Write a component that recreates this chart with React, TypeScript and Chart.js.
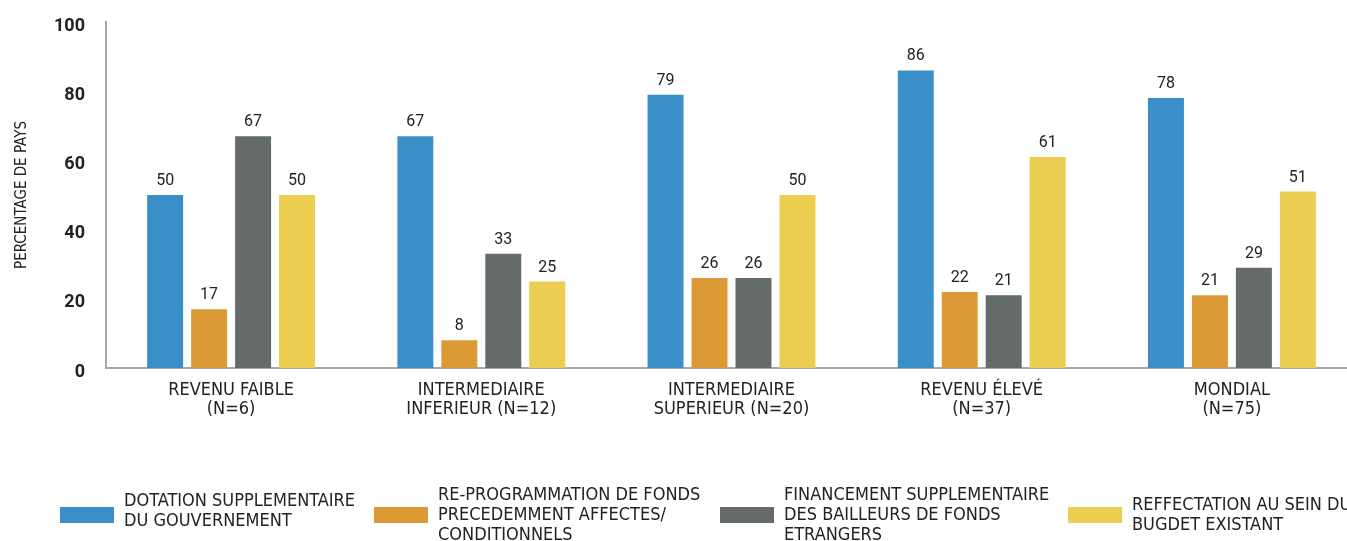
import React, { useEffect, useRef } from "react";
import { Chart, registerables } from "chart.js";

Chart.register(...registerables);

const categories: string[][] = [
  ["REVENU FAIBLE", "(N=6)"],
  ["INTERMEDIAIRE", "INFERIEUR (N=12)"],
  ["INTERMEDIAIRE", "SUPERIEUR (N=20)"],
  ["REVENU ÉLEVÉ", "(N=37)"],
  ["MONDIAL", "(N=75)"],
];

const dotation = [50, 67, 79, 86, 78];
const reprogrammation = [17, 8, 26, 22, 21];
const financement = [67, 33, 26, 21, 29];
const reaffectation = [50, 25, 50, 61, 51];

const seriesLabels: string[][] = [
  ["DOTATION SUPPLEMENTAIRE", "DU GOUVERNEMENT"],
  ["RE-PROGRAMMATION DE FONDS", "PRECEDEMMENT AFFECTES/", "CONDITIONNELS"],
  ["FINANCEMENT SUPPLEMENTAIRE", "DES BAILLEURS DE FONDS", "ETRANGERS"],
  ["REFFECTATION AU SEIN DU", "BUGDET EXISTANT"],
];
const seriesColors = ["#3a8fc8", "#dc9a37", "#656a6a", "#ebcd50"];

const yMin = 0;
const yMax = 100;
const yStep = 20;
const yTitle = "PERCENTAGE DE PAYS";

const NARROW = '"DejaVu Sans Condensed", Roboto, sans-serif';

const W = 1360;
const H = 541;

const valueLabelPlugin = {
  id: "valueLabels",
  afterDatasetsDraw(chart: any) {
    const ctx = chart.ctx;
    ctx.save();
    ctx.font = "16px Roboto, sans-serif";
    ctx.fillStyle = "#222";
    ctx.textAlign = "center";
    ctx.textBaseline = "bottom";
    chart.data.datasets.forEach((ds: any, i: number) => {
      const meta = chart.getDatasetMeta(i);
      meta.data.forEach((bar: any, j: number) => {
        ctx.fillText(String(ds.data[j]), bar.x, bar.y - 6);
      });
    });
    ctx.restore();
  },
};

const legendLayout = {
  x: [60, 374, 720, 1068],
  firstLineY: [501, 495, 495, 505],
};

const legendPlugin = {
  id: "customLegend",
  afterDraw(chart: any) {
    const ctx = chart.ctx;
    ctx.save();
    chart.data.datasets.forEach((ds: any, i: number) => {
      const x = legendLayout.x[i];
      ctx.fillStyle = ds.backgroundColor;
      ctx.fillRect(x, 507, 54, 16);
      ctx.fillStyle = "#222";
      ctx.font = "18px " + NARROW;
      ctx.textAlign = "left";
      ctx.textBaseline = "middle";
      const lines: string[] = ds.legendLines;
      lines.forEach((ln, k) => {
        ctx.fillText(ln, x + 64, legendLayout.firstLineY[i] + k * 20);
      });
    });
    ctx.restore();
  },
};

export default function App() {
  const ref = useRef<HTMLCanvasElement | null>(null);
  useEffect(() => {
    document.body.style.margin = "0";
    if (!ref.current) return;
    const values = [dotation, reprogrammation, financement, reaffectation];
    const chart = new Chart(ref.current, {
      type: "bar",
      data: {
        labels: categories,
        datasets: values.map((v, i) => ({
          label: seriesLabels[i].join(" "),
          legendLines: seriesLabels[i],
          data: v,
          backgroundColor: seriesColors[i],
          borderWidth: 0,
          categoryPercentage: 0.703,
          barPercentage: 0.818,
        })) as any,
      },
      options: {
        responsive: false,
        animation: false,
        layout: { padding: { top: 22, right: 3, left: 0, bottom: 0 } },
        plugins: {
          legend: { display: false },
          tooltip: { enabled: false },
        },
        scales: {
          x: {
            grid: { display: false, drawTicks: false },
            border: { display: true, color: "#a8a8a8", width: 2 },
            ticks: {
              color: "#222",
              font: { family: NARROW, size: 18, lineHeight: 1.1 },
              padding: 12,
              maxRotation: 0,
              autoSkip: false,
            },
            afterFit(scale: any) {
              scale.height = H - 368;
              scale.paddingLeft = 0;
              scale.paddingRight = 0;
            },
          },
          y: {
            min: yMin,
            max: yMax,
            grid: { display: false, drawTicks: false },
            border: { display: true, color: "#a8a8a8", width: 2 },
            ticks: {
              stepSize: yStep,
              color: "#222",
              font: { family: "Roboto, sans-serif", size: 18, weight: "bold" },
              padding: 21,
              labelOffset: 4,
            },
            title: {
              display: true,
              text: yTitle,
              color: "#222",
              font: { family: NARROW, size: 15 },
              padding: { top: 13, bottom: 0 },
            },
            afterFit(scale: any) {
              scale.width = 106;
              scale.paddingTop = 0;
              scale.paddingBottom = 0;
            },
          },
        },
      },
      plugins: [valueLabelPlugin, legendPlugin],
    });
    return () => chart.destroy();
  }, []);
  return (
    <div style={{ position: "absolute", left: 0, top: 0, width: 1347, height: H, overflow: "hidden", background: "#fff" }}>
      <canvas ref={ref} width={W} height={H} style={{ width: W, height: H }} />
    </div>
  );
}
